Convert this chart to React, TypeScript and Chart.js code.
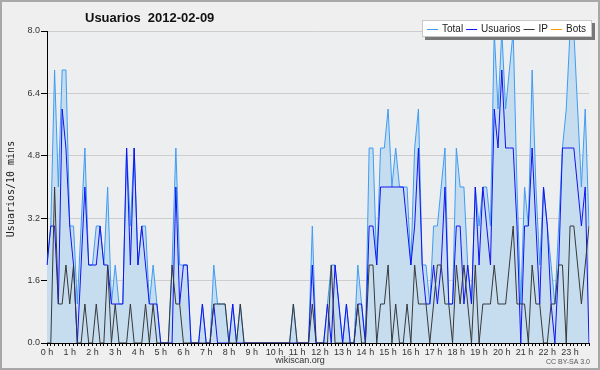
import React, { useEffect, useRef } from "react";
import { Chart, registerables } from "chart.js";

Chart.register(...registerables);

const TITLE = "Usuarios  2012-02-09";
const Y_TITLE = "Usuarios/10 mins";
const HOURS = [
  "0 h", "1 h", "2 h", "3 h", "4 h", "5 h", "6 h", "7 h", "8 h", "9 h", "10 h", "11 h",
  "12 h", "13 h", "14 h", "15 h", "16 h", "17 h", "18 h", "19 h", "20 h", "21 h", "22 h", "23 h",
];
const SLOTS_PER_HOUR = 6;
const Y_TICKS = [0, 1.6, 3.2, 4.8, 6.4, 8.0];

const TOTAL = [
  2, 3, 7, 4, 7, 7, 3, 3, 1, 3,
  5, 2, 2, 3, 3, 2, 4, 1, 2, 1,
  1, 5, 3, 5, 2, 3, 3, 1, 2, 1,
  0, 0, 0, 2, 5, 2, 2, 2, 0, 0,
  0, 1, 0, 0, 2, 1, 1, 1, 0, 1,
  0, 1, 0, 0, 0, 0, 0, 0, 0, 0,
  0, 0, 0, 0, 0, 1, 0, 0, 0, 0,
  3, 0, 0, 0, 1, 2, 2, 1, 0, 1,
  0, 0, 2, 1, 0, 5, 5, 2, 5, 5,
  6, 4, 5, 4, 4, 4, 2, 5, 6, 2,
  2, 1, 3, 3, 4, 5, 1, 1, 5, 4,
  4, 2, 1, 4, 3, 4, 4, 3, 8, 6,
  8, 6, 7, 8, 4, 1, 4, 3, 7, 4,
  2, 4, 3, 2, 1, 3, 5, 6, 8, 8,
  6, 4, 6, 3,
];
const USUARIOS = [
  2, 3, 3, 1, 6, 5, 3, 2, 0, 2,
  4, 2, 2, 2, 3, 2, 2, 1, 1, 1,
  1, 5, 2, 5, 2, 3, 2, 1, 1, 1,
  0, 0, 0, 0, 4, 1, 2, 2, 0, 0,
  0, 1, 0, 0, 1, 0, 0, 0, 0, 1,
  0, 0, 0, 0, 0, 0, 0, 0, 0, 0,
  0, 0, 0, 0, 0, 0, 0, 0, 0, 0,
  2, 0, 0, 0, 1, 0, 2, 1, 0, 1,
  0, 0, 1, 1, 0, 3, 3, 2, 4, 4,
  4, 4, 4, 4, 4, 3, 2, 3, 5, 2,
  1, 1, 2, 1, 2, 4, 1, 1, 3, 3,
  1, 2, 1, 4, 2, 4, 3, 2, 6, 5,
  7, 5, 5, 5, 3, 0, 3, 3, 5, 3,
  1, 4, 3, 1, 0, 2, 5, 5, 5, 5,
  4, 3, 4, 0,
];
const IP = [
  0, 0, 4, 1, 1, 2, 1, 2, 0, 0,
  1, 0, 0, 1, 0, 0, 2, 0, 1, 0,
  0, 0, 1, 0, 0, 0, 1, 0, 1, 0,
  0, 0, 0, 2, 1, 1, 0, 0, 0, 0,
  0, 0, 0, 0, 1, 1, 1, 1, 0, 0,
  0, 1, 0, 0, 0, 0, 0, 0, 0, 0,
  0, 0, 0, 0, 0, 1, 0, 0, 0, 0,
  1, 0, 0, 0, 0, 2, 0, 0, 0, 0,
  0, 0, 1, 0, 0, 2, 2, 0, 1, 1,
  2, 0, 1, 0, 0, 1, 0, 2, 1, 1,
  1, 0, 1, 2, 2, 1, 1, 0, 2, 1,
  2, 1, 0, 2, 0, 1, 1, 1, 2, 1,
  1, 1, 2, 3, 1, 1, 1, 0, 2, 1,
  1, 0, 0, 1, 1, 2, 2, 0, 3, 3,
  2, 1, 2, 3,
];
const BOTS = [
  0, 0, 0, 0, 0, 0, 0, 0, 0, 0,
  0, 0, 0, 0, 0, 0, 0, 0, 0, 0,
  0, 0, 0, 0, 0, 0, 0, 0, 0, 0,
  0, 0, 0, 0, 0, 0, 0, 0, 0, 0,
  0, 0, 0, 0, 0, 0, 0, 0, 0, 0,
  0, 0, 0, 0, 0, 0, 0, 0, 0, 0,
  0, 0, 0, 0, 0, 0, 0, 0, 0, 0,
  0, 0, 0, 0, 0, 0, 0, 0, 0, 0,
  0, 0, 0, 0, 0, 0, 0, 0, 0, 0,
  0, 0, 0, 0, 0, 0, 0, 0, 0, 0,
  0, 0, 0, 0, 0, 0, 0, 0, 0, 0,
  0, 0, 0, 0, 0, 0, 0, 0, 0, 0,
  0, 0, 0, 0, 0, 0, 0, 0, 0, 0,
  0, 0, 0, 0, 0, 0, 0, 0, 0, 0,
  0, 0, 0, 0,
];

const SANS = "'Liberation Sans', Arial, sans-serif";

const decor = {
  id: "decor",
  beforeDraw(chart: any) {
    const { ctx, chartArea: a } = chart;
    ctx.save();
    ctx.fillStyle = "#EFEFEF";
    ctx.fillRect(0, 0, chart.width, chart.height);
    ctx.fillStyle = "#ECEEF0";
    ctx.fillRect(a.left, a.top, a.right - a.left, a.bottom - a.top);
    ctx.restore();
  },
  afterDraw(chart: any) {
    const { ctx } = chart;
    ctx.save();
    // outer border
    ctx.strokeStyle = "#A8A8A8";
    ctx.lineWidth = 2;
    ctx.strokeRect(1, 1, chart.width - 2, chart.height - 2);

    // title
    ctx.fillStyle = "#111";
    ctx.font = `bold 13px ${SANS}`;
    ctx.textAlign = "left";
    ctx.textBaseline = "alphabetic";
    ctx.fillText(TITLE, 85, 22);

    // y axis title
    ctx.save();
    ctx.translate(11, 189);
    ctx.rotate(-Math.PI / 2);
    ctx.font = "10px 'DejaVu Sans Mono', monospace";
    ctx.textAlign = "center";
    ctx.textBaseline = "middle";
    ctx.fillStyle = "#222";
    ctx.fillText(Y_TITLE, 0, 0);
    ctx.restore();

    // footer
    ctx.font = `9px ${SANS}`;
    ctx.textAlign = "center";
    ctx.textBaseline = "middle";
    ctx.fillStyle = "#333";
    ctx.fillText("wikiscan.org", 300, 361);
    ctx.font = `7px ${SANS}`;
    ctx.textAlign = "right";
    ctx.fillStyle = "#555";
    ctx.fillText("CC BY-SA 3.0", 590, 362);

    // legend box
    const bx = 422, by = 20, bw = 170, bh = 17;
    ctx.fillStyle = "#777";
    ctx.fillRect(bx + 3, by + bh, bw, 3);
    ctx.fillRect(bx + bw, by + 3, 3, bh);
    ctx.fillStyle = "#FFFFFF";
    ctx.fillRect(bx, by, bw, bh);
    ctx.strokeStyle = "#C8C8C8";
    ctx.lineWidth = 1;
    ctx.strokeRect(bx + 0.5, by + 0.5, bw - 1, bh - 1);

    ctx.font = `10px ${SANS}`;
    ctx.textAlign = "left";
    ctx.textBaseline = "middle";
    let x = 427;
    const cy = by + bh / 2 + 0.5;
    chart.data.datasets.forEach((ds: any) => {
      ctx.strokeStyle = ds.borderColor;
      ctx.lineWidth = 1;
      ctx.beginPath();
      ctx.moveTo(x, Math.round(cy) + 0.5);
      ctx.lineTo(x + 11, Math.round(cy) + 0.5);
      ctx.stroke();
      x += 15;
      ctx.fillStyle = "#222";
      ctx.fillText(ds.label, x, cy);
      x += ctx.measureText(ds.label).width + 3;
    });
    ctx.restore();
  },
};

export default function App() {
  const ref = useRef<HTMLCanvasElement | null>(null);

  useEffect(() => {
    document.body.style.margin = "0";
    const labels: string[] = [];
    HOURS.forEach((h) => {
      for (let k = 0; k < SLOTS_PER_HOUR; k++) labels.push(k === 0 ? h : "");
    });

    const chart = new Chart(ref.current as HTMLCanvasElement, {
      type: "line",
      data: {
        labels,
        datasets: [
          {
            label: "Total",
            data: TOTAL,
            borderColor: "#3F9CF2",
            backgroundColor: "#C6DDF0",
            fill: "origin",
            borderWidth: 1,
            pointRadius: 0,
            tension: 0,
            order: 3,
          },
          {
            label: "Usuarios",
            data: USUARIOS,
            borderColor: "#1212F0",
            backgroundColor: "#1212F0",
            fill: false,
            borderWidth: 1,
            pointRadius: 0,
            tension: 0,
            order: 2,
          },
          {
            label: "IP",
            data: IP,
            borderColor: "#383838",
            backgroundColor: "#383838",
            fill: false,
            borderWidth: 1,
            pointRadius: 0,
            tension: 0,
            order: 1,
          },
          {
            label: "Bots",
            data: BOTS,
            borderColor: "#FF9900",
            backgroundColor: "#FF9900",
            fill: false,
            borderWidth: 1,
            pointRadius: 0,
            tension: 0,
            order: 4,
          },
        ],
      },
      options: {
        responsive: false,
        animation: false,
        devicePixelRatio: 1,
        layout: { padding: { left: 0, top: 31, right: 11, bottom: 0 } },
        plugins: {
          legend: { display: false },
          title: { display: false },
          tooltip: { enabled: false },
        },
        scales: {
          x: {
            type: "category",
            offset: false,
            afterFit: (s: any) => {
              s.height = 27;
            },
            grid: {
              display: true,
              drawOnChartArea: false,
              drawTicks: true,
              tickLength: 3,
              tickColor: "#000",
            },
            border: { display: true, color: "#000", width: 1, z: 1 },
            ticks: {
              autoSkip: false,
              maxRotation: 0,
              minRotation: 0,
              padding: 1,
              color: "#333",
              font: { family: SANS, size: 9 },
            },
          },
          y: {
            type: "linear",
            min: 0,
            max: 8,
            afterFit: (s: any) => {
              s.width = 47;
            },
            afterBuildTicks: (s: any) => {
              s.ticks = Y_TICKS.map((v) => ({ value: v }));
            },
            grid: {
              color: "#CDCDCD",
              tickColor: "#000",
              tickLength: 6,
              drawTicks: true,
            },
            border: { display: true, color: "#000", width: 1 },
            ticks: {
              padding: 1,
              color: "#333",
              font: { family: SANS, size: 9 },
              callback: (v: any) => Number(v).toFixed(1),
            },
          },
        },
      },
      plugins: [decor],
    });

    return () => chart.destroy();
  }, []);

  return (
    <div style={{ width: 600, height: 370 }}>
      <canvas ref={ref} width={600} height={370} style={{ display: "block" }} />
    </div>
  );
}
